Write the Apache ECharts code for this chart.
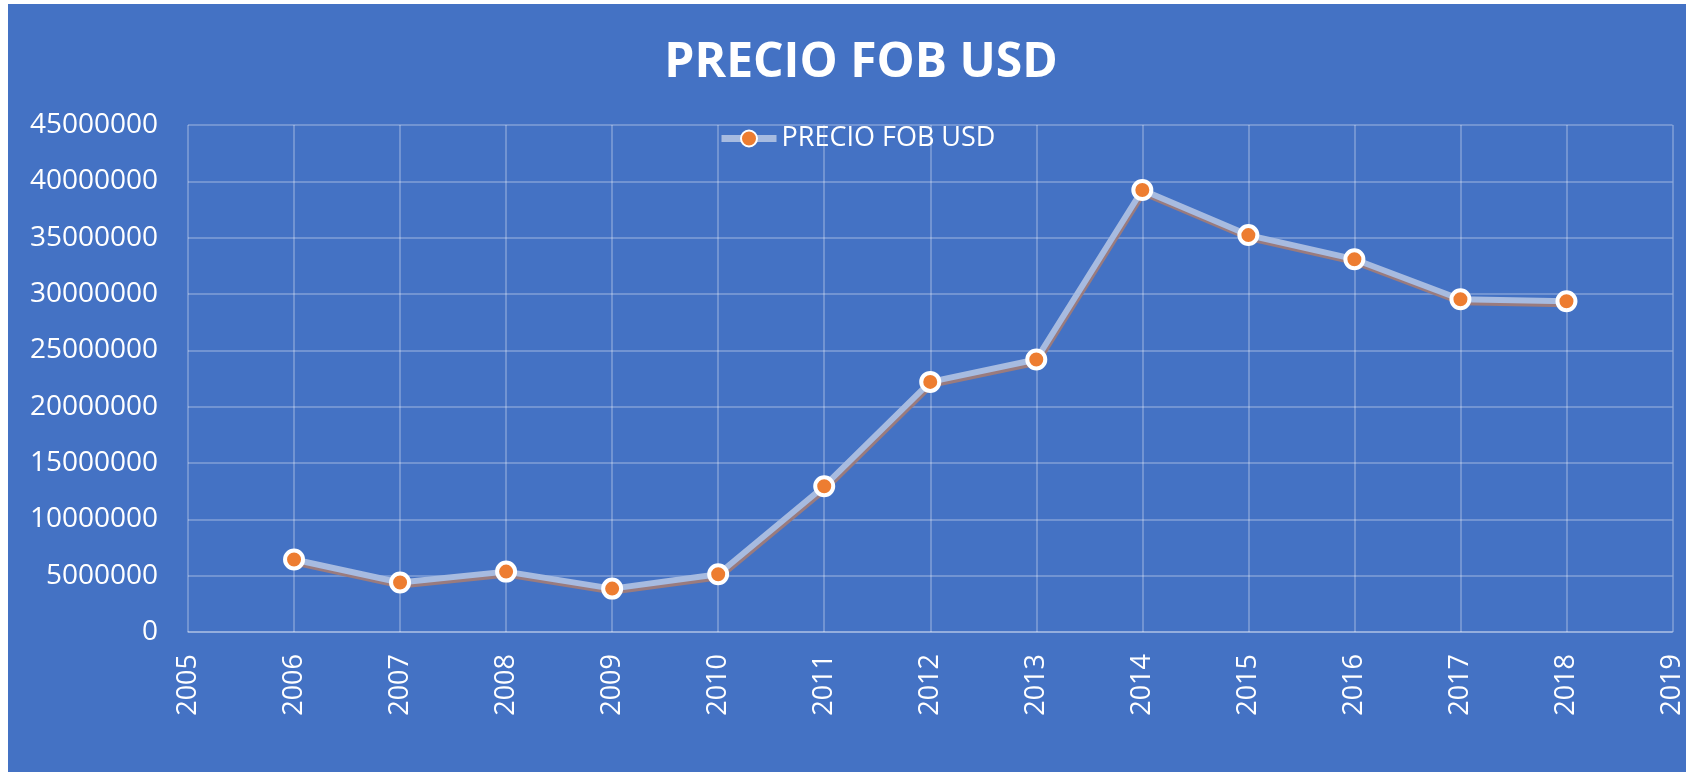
<!DOCTYPE html>
<html>
<head>
<meta charset="utf-8">
<script src="https://cdn.jsdelivr.net/npm/echarts@6/dist/echarts.min.js"></script>
<style>
  html, body { margin: 0; padding: 0; background: #ffffff; width: 1686px; height: 772px; overflow: hidden; }
  #chart { position: absolute; left: 8px; top: 4px; width: 1678px; height: 768px; background: #4472C4; }
</style>
</head>
<body>
<div id="chart"></div>
<script>
const titleText = 'PRECIO FOB USD';
const seriesName = 'PRECIO FOB USD';
const years = [2006, 2007, 2008, 2009, 2010, 2011, 2012, 2013, 2014, 2015, 2016, 2017, 2018];
const values = [6430000, 4390000, 5360000, 3850000, 5120000, 12940000, 22200000, 24190000, 39230000, 35230000, 33090000, 29530000, 29360000];
const xMin = 2005, xMax = 2019, xStep = 1;
const yMin = 0, yMax = 45000000, yStep = 5000000;

const points = years.map((y, i) => [y, values[i]]);
const gridColor = 'rgba(255,255,255,0.33)';
const font = 'Open Sans';

const chart = echarts.init(document.getElementById('chart'));
chart.setOption({
  backgroundColor: '#4472C4',
  animation: false,
  title: {
    text: titleText,
    left: 848,
    textAlign: 'center',
    top: 30,
    textStyle: { color: '#ffffff', fontFamily: font, fontWeight: 'bold', fontSize: 48 }
  },
  legend: {
    data: [seriesName],
    left: 705,
    top: 116,
    itemWidth: 55,
    itemHeight: 20,
    itemGap: 5,
    lineStyle: { width: 7, color: '#a7bbe0' },
    textStyle: { color: '#ffffff', fontFamily: font, fontSize: 27 }
  },
  grid: { left: 180, right: 10, top: 121, bottom: 140, containLabel: false },
  xAxis: {
    type: 'value',
    min: xMin, max: xMax, interval: xStep,
    axisLine: { show: true, lineStyle: { color: gridColor, width: 1.5 } },
    axisTick: { show: false },
    splitLine: { show: true, lineStyle: { color: gridColor, width: 1.5 } },
    axisLabel: {
      rotate: 90, margin: 22, color: '#ffffff', fontFamily: font, fontSize: 27,
      formatter: v => String(v)
    }
  },
  yAxis: {
    type: 'value',
    min: yMin, max: yMax, interval: yStep,
    axisLine: { show: false },
    axisTick: { show: false },
    splitLine: { show: true, lineStyle: { color: gridColor, width: 1.5 } },
    axisLabel: {
      margin: 30, color: '#ffffff', fontFamily: font, fontSize: 28,
      formatter: v => String(v)
    }
  },
  series: [{
    name: seriesName,
    type: 'line',
    data: points,
    symbol: 'circle',
    symbolSize: 18,
    lineStyle: {
      color: '#a7bbe0', width: 6,
      shadowColor: '#9a7b7e', shadowBlur: 0, shadowOffsetX: 1, shadowOffsetY: 3
    },
    itemStyle: { color: '#ED7D31', borderColor: '#ffffff', borderWidth: 4 }
  }]
});
</script>
</body>
</html>
